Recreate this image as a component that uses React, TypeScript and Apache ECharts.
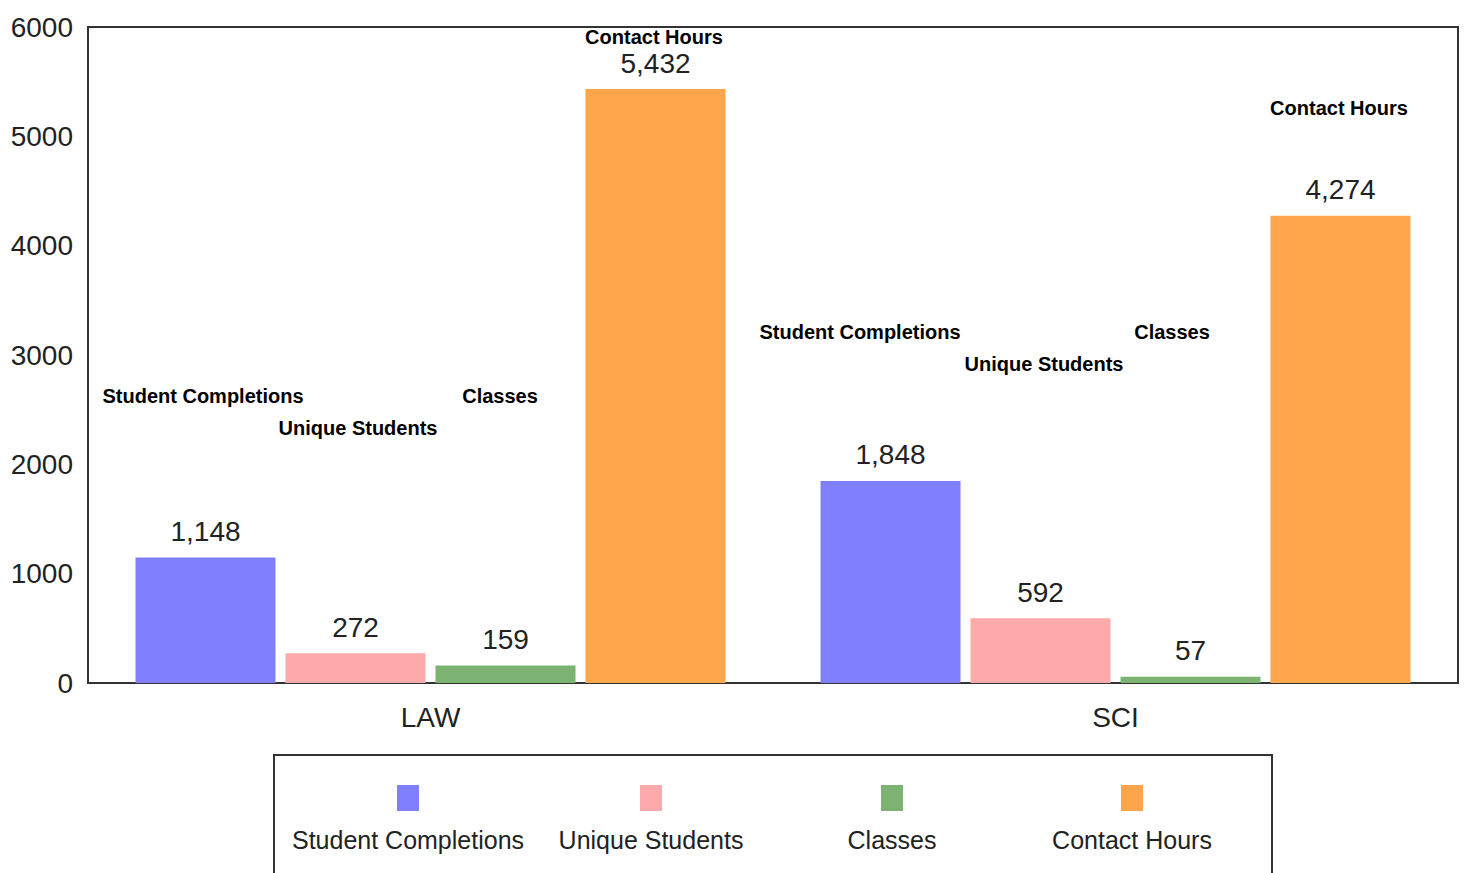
import React, { useEffect, useRef } from "react";
import * as echarts from "echarts";

const categories = ["LAW", "SCI"];
const seriesNames = ["Student Completions", "Unique Students", "Classes", "Contact Hours"];
const colors = ["#8080ff", "#ffaaaa", "#7db372", "#ffa64d"];
const studentCompletions = [1148, 1848];
const uniqueStudents = [272, 592];
const classes = [159, 57];
const contactHours = [5432, 4274];
const yTicks = { min: 0, max: 6000, interval: 1000 };

// floating bold series-name annotations (pixel positions as in the reference)
const annotations = [
  { text: "Student Completions", x: 203, y: 396 },
  { text: "Unique Students", x: 358, y: 428 },
  { text: "Classes", x: 500, y: 396 },
  { text: "Contact Hours", x: 654, y: 37 },
  { text: "Student Completions", x: 860, y: 332 },
  { text: "Unique Students", x: 1044, y: 364 },
  { text: "Classes", x: 1172, y: 332 },
  { text: "Contact Hours", x: 1339, y: 108 },
];
const legendCenters = [408, 651, 892, 1132];

const FONT = "'Liberation Sans', Arial, sans-serif";

export default function App() {
  const ref = useRef<HTMLDivElement>(null);
  useEffect(() => {
    if (!ref.current) return;
    const chart = echarts.init(ref.current, undefined, { renderer: "svg" });
    const values = [studentCompletions, uniqueStudents, classes, contactHours];
    const graphic: any[] = [];
    annotations.forEach((a) => {
      graphic.push({
        type: "text",
        x: a.x,
        y: a.y,
        style: {
          text: a.text,
          fontFamily: FONT,
          fontWeight: "bold",
          fontSize: 20,
          fill: "#000",
          align: "center",
          verticalAlign: "middle",
        },
      });
    });
    graphic.push({
      type: "rect",
      shape: { x: 274, y: 755, width: 998, height: 140 },
      style: { fill: "none", stroke: "#333", lineWidth: 2 },
    });
    seriesNames.forEach((n, i) => {
      graphic.push({
        type: "rect",
        shape: { x: legendCenters[i] - 11, y: 785, width: 22, height: 26 },
        style: { fill: colors[i] },
      });
      graphic.push({
        type: "text",
        x: legendCenters[i],
        y: 840,
        style: {
          text: n,
          fontFamily: FONT,
          fontSize: 25,
          fill: "#222",
          align: "center",
          verticalAlign: "middle",
        },
      });
    });
    chart.setOption({
      animation: false,
      backgroundColor: "#fff",
      grid: {
        left: 88,
        right: 6,
        top: 27,
        bottom: 190,
        show: true,
        borderColor: "#333",
        borderWidth: 2,
      },
      xAxis: {
        type: "category",
        data: categories,
        axisLine: { lineStyle: { color: "#333", width: 2 } },
        axisTick: { show: false },
        axisLabel: { fontFamily: FONT, fontSize: 28, color: "#222", margin: 20 },
      },
      yAxis: {
        type: "value",
        min: yTicks.min,
        max: yTicks.max,
        interval: yTicks.interval,
        splitLine: { show: false },
        axisLine: { show: true, lineStyle: { color: "#333", width: 2 } },
        axisTick: { show: false },
        axisLabel: {
          fontFamily: FONT,
          fontSize: 28,
          color: "#222",
          margin: 15,
          formatter: (v: number) => String(v),
        },
      },
      series: seriesNames.map((n, i) => ({
        name: n,
        type: "bar",
        data: values[i],
        barWidth: 140,
        barGap: "7.14%",
        itemStyle: { color: colors[i] },
        label: {
          show: true,
          position: "top",
          distance: 12,
          fontFamily: FONT,
          fontSize: 28,
          color: "#222",
          formatter: (p: any) => Number(p.value).toLocaleString("en-US"),
        },
      })),
      graphic,
    });
    return () => chart.dispose();
  }, []);
  return <div ref={ref} style={{ width: 1464, height: 873, position: "absolute", left: 0, top: 0 }} />;
}
